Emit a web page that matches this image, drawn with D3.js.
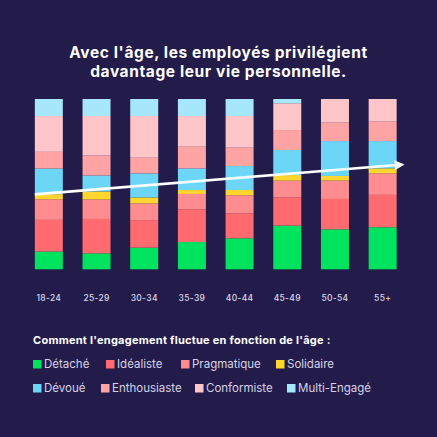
<!DOCTYPE html>
<html>
<head>
<meta charset="utf-8">
<script src="https://cdn.jsdelivr.net/npm/d3@7"></script>
<style>
  html, body { margin: 0; padding: 0; background: #231c4b; }
  svg { display: block; }
  text { font-family: Inter, "Noto Sans", sans-serif; }
</style>
</head>
<body>
<div class="container"></div>
<script>
// age groups and share of each engagement profile (%)
const ages = ["18-24", "25-29", "30-34", "35-39", "40-44", "45-49", "50-54", "55+"]
const detache      = [10.4,  9.4, 12.7, 16.0, 18.2, 25.6, 23.5, 24.7]
const idealiste    = [18.6, 20.2, 16.2, 19.2, 14.7, 16.6, 17.8, 19.0]
const pragmatique  = [12.1, 11.5,  9.8,  9.0, 10.6,  9.8, 10.8, 12.7]
const solidaire    = [ 3.0,  4.7,  3.5,  2.3,  3.1,  3.3,  2.7,  2.9]
const devoue       = [15.0,  9.4, 14.1, 12.7, 14.1, 14.7, 20.5, 16.0]
const enthousiaste = [ 9.8, 11.7,  9.2, 12.7, 10.8, 11.7, 10.8, 11.4]
const conformiste  = [21.0, 23.3, 24.5, 18.0, 18.6, 15.7, 13.9, 13.3]
const multiEngage  = [10.0, 10.0, 10.0, 10.0, 10.0,  2.5,  0.0,  0.0]

const seriesNames = ["Détaché", "Idéaliste", "Pragmatique", "Solidaire",
                     "Dévoué", "Enthousiaste", "Conformiste", "Multi-Engagé"]
const seriesValues = [detache, idealiste, pragmatique, solidaire,
                      devoue, enthousiaste, conformiste, multiEngage]

// trend arrow: share level at start (first bar) and end (last bar)
const trend = [0.44, 0.612]

const colors = ["#00e35f", "#ff6b6e", "#ff8c8e", "#ffd62e",
                "#6dd6f7", "#ffa3a5", "#ffc5c9", "#a6e7fb"]

const title = ["Avec l'âge, les employés privilégient", "davantage leur vie personnelle."]
const legendTitle = "Comment l'engagement fluctue en fonction de l'âge :"

const width = 437
const height = 437

const rows = ages.map((a, i) => {
  const r = { age: a }
  seriesNames.forEach((s, j) => r[s] = seriesValues[j][i])
  return r
})

const stack = d3.stack()
  .keys(seriesNames)
  .offset(d3.stackOffsetExpand)
const stacked = stack(rows)

const xScale = d3.scaleBand()
  .domain(ages)
  .range([25, 406.5])
  .paddingInner(0.413)
  .paddingOuter(0.2065)

const yScale = d3.scaleLinear()
  .domain([0, 1])
  .range([269.3, 99])

const color = d3.scaleOrdinal()
  .domain(seriesNames)
  .range(colors)

const svg = d3.select(".container")
  .append("svg")
    .attr("width", width)
    .attr("height", height)

svg.append("rect")
  .attr("width", width)
  .attr("height", height)
  .attr("fill", "#231c4b")

// title, one text per line
svg.append("g")
  .selectAll("text")
  .data(title)
  .join("text")
    .attr("x", width / 2)
    .attr("y", (d, i) => 58 + i * 19)
    .attr("text-anchor", "middle")
    .attr("fill", "#ffffff")
    .attr("font-size", 15.5)
    .attr("font-weight", 700)
    .attr("letter-spacing", 0.6)
    .text(d => d)

// bars
svg.append("g")
  .selectAll("g")
  .data(stacked)
  .join("g")
    .attr("fill", d => color(d.key))
  .selectAll("rect")
  .data(d => d)
  .join("rect")
    .attr("x", d => xScale(d.data.age))
    .attr("width", xScale.bandwidth())
    .attr("y", d => yScale(d[1]))
    .attr("height", d => yScale(d[0]) - yScale(d[1]))

// x axis labels
const xAxis = d3.axisBottom(xScale).tickSize(0).tickPadding(0)
svg.append("g")
  .attr("transform", "translate(0, 295)")
  .call(xAxis)
  .call(g => g.select(".domain").remove())
  .call(g => g.selectAll("text")
    .attr("fill", "#dcd8ea")
    .attr("font-size", 8.5)
    .attr("font-weight", 500)
    .attr("letter-spacing", 0.3)
    .attr("font-family", "Inter, sans-serif"))

// trend arrow
svg.append("defs").append("marker")
  .attr("id", "head")
  .attr("viewBox", "0 0 10 10")
  .attr("refX", 2)
  .attr("refY", 5)
  .attr("markerWidth", 3.8)
  .attr("markerHeight", 3.8)
  .attr("orient", "auto")
  .append("path")
    .attr("d", "M0,0 L10,5 L0,10 Z")
    .attr("fill", "#ffffff")

const x0 = xScale(ages[0])
const x1 = xScale(ages[ages.length - 1]) + xScale.bandwidth()
svg.append("line")
  .attr("x1", x0)
  .attr("y1", yScale(trend[0]))
  .attr("x2", x1)
  .attr("y2", yScale(trend[1]))
  .attr("stroke", "#ffffff")
  .attr("stroke-width", 2.6)
  .attr("marker-end", "url(#head)")

// legend
svg.append("text")
  .attr("x", 33)
  .attr("y", 344)
  .attr("fill", "#ffffff")
  .attr("font-size", 11)
  .attr("font-weight", 700)
  .attr("letter-spacing", 0.25)
  .text(legendTitle)

const legend = svg.append("g")
  .selectAll("g")
  .data(seriesNames)
  .join("g")
    .attr("transform", (d, i) => `translate(${[33, 106, 181, 276, 33, 101, 195, 287][i]}, ${i < 4 ? 360 : 384})`)

legend.append("rect")
  .attr("width", 8.5)
  .attr("height", 8.5)
  .attr("fill", d => color(d))

legend.append("text")
  .attr("x", 11)
  .attr("y", 8.3)
  .attr("fill", "#d6d2e6")
  .attr("font-size", 11.5)
  .text(d => d)
</script>
</body>
</html>
